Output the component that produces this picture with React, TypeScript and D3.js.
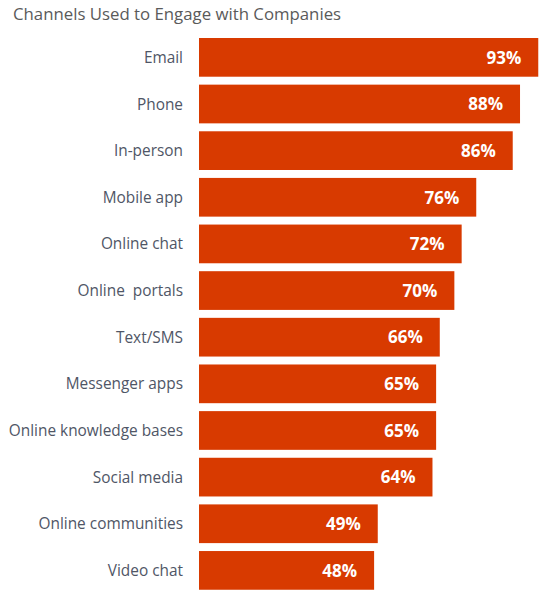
import * as d3 from "d3";

const channels = [
  "Email",
  "Phone",
  "In-person",
  "Mobile app",
  "Online chat",
  "Online  portals",
  "Text/SMS",
  "Messenger apps",
  "Online knowledge bases",
  "Social media",
  "Online communities",
  "Video chat",
];
const shares = [93, 88, 86, 76, 72, 70, 66, 65, 65, 64, 49, 48];

const W = 540, H = 593;
const FONT = "'Open Sans', sans-serif";

export default function App() {
  const x = d3.scaleLinear().domain([0, 100]).range([199, 563.8]);
  const step = 46.64, pad = 0.17;
  const y = d3.scaleBand<string>().domain(channels)
    .range([38, 38 + step * (channels.length - pad)])
    .paddingInner(pad).paddingOuter(0);

  return (
    <svg width={W} height={H} style={{ position: "absolute", left: 0, top: 0 }}>
      <rect width={W} height={H} fill="#fff" />
      <text x={13} y={19.5} fontFamily={FONT} fontSize={16.8} fill="#5a5a5a">
        Channels Used to Engage with Companies
      </text>
      {channels.map((c, i) => {
        const yy = y(c)!;
        const bw = y.bandwidth();
        return (
          <g key={c}>
            <rect x={x(0)} y={yy} width={x(shares[i]) - x(0)} height={bw} fill="#d83a00" />
            <text x={183} y={yy + bw / 2} dy="0.36em" textAnchor="end" fontFamily={FONT} fontSize={15.4} fill="#4f5666" style={{ whiteSpace: "pre" }}>
              {c}
            </text>
            <text x={x(shares[i]) - 17} y={yy + bw / 2} dy="0.37em" textAnchor="end" fontFamily={FONT} fontWeight={700} fontSize={17} fill="#fff">
              {shares[i]}%
            </text>
          </g>
        );
      })}
    </svg>
  );
}
